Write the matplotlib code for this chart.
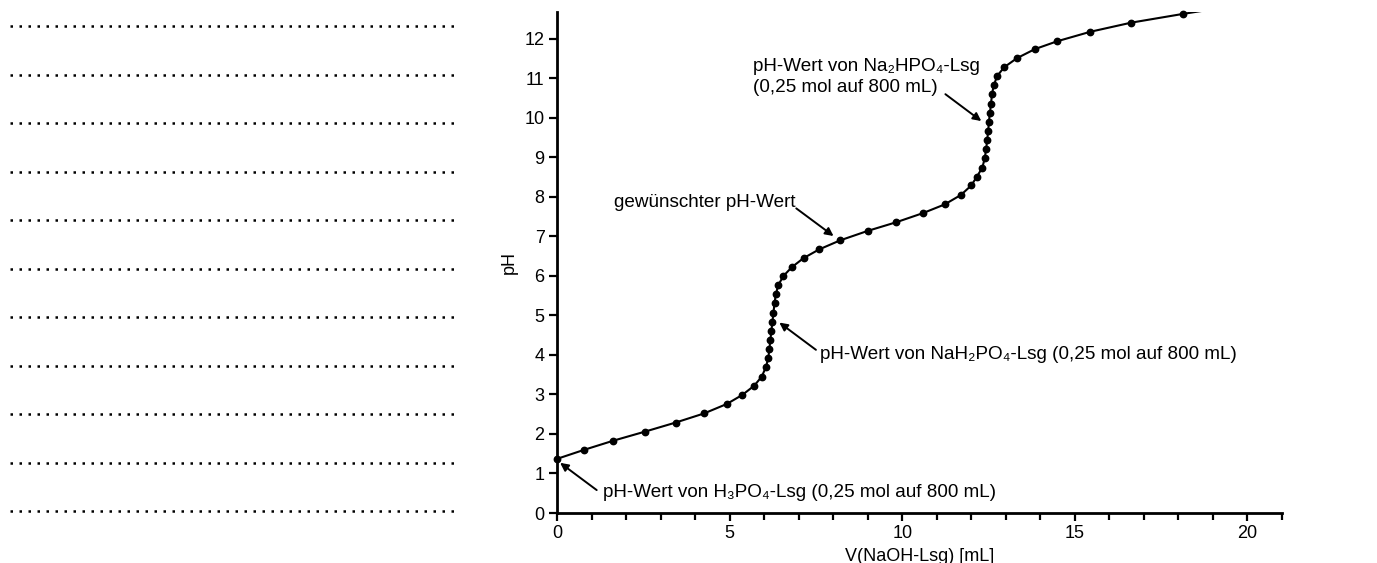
import numpy as np
import matplotlib
matplotlib.use("Agg")
import matplotlib.pyplot as plt

plt.rcParams['font.family'] = ['Liberation Sans', 'DejaVu Sans']

v_naoh = [0.0, 0.79, 1.63, 2.55, 3.44, 4.26, 4.92, 5.37, 5.71, 5.93,
          6.05, 6.12, 6.15, 6.18, 6.21, 6.24, 6.27, 6.30, 6.34, 6.41,
          6.56, 6.80, 7.14, 7.59, 8.20, 9.00, 9.83, 10.60, 11.23, 11.70,
          12.00, 12.16, 12.32, 12.39, 12.43, 12.46, 12.49, 12.51, 12.54, 12.57,
          12.60, 12.65, 12.75, 12.95, 13.32, 13.84, 14.49, 15.45, 16.63, 18.12]
ph = [1.37, 1.60, 1.83, 2.06, 2.29, 2.52, 2.76, 2.99, 3.22, 3.45,
      3.69, 3.92, 4.14, 4.38, 4.61, 4.84, 5.07, 5.31, 5.54, 5.77,
      6.00, 6.22, 6.45, 6.67, 6.90, 7.14, 7.36, 7.59, 7.81, 8.05,
      8.29, 8.51, 8.74, 8.98, 9.21, 9.44, 9.67, 9.90, 10.13, 10.35,
      10.60, 10.82, 11.06, 11.28, 11.51, 11.74, 11.94, 12.18, 12.41, 12.63]
# Kurve läuft über den letzten Punkt hinaus bis zum oberen Rand
v_ende = [19.5]
ph_ende = [12.82]

x_ticks = [0, 5, 10, 15, 20]
y_ticks = list(range(0, 13))
n_schreibzeilen = 11

fig = plt.figure(figsize=(13.77, 5.63), dpi=100)

# Schreiblinien links
ax_l = fig.add_axes([10/1377, 1 - 511/563, 450/1377, 485/563])
ax_l.hlines(range(n_schreibzeilen), 0, 1, colors='black', lw=1.8,
            linestyles=(0, (1, 2.6)), clip_on=False)
ax_l.set_xlim(0, 1)
ax_l.set_ylim(n_schreibzeilen - 1, 0)
ax_l.axis('off')

# Diagramm
ax = fig.add_axes([557/1377, 1 - 513/563, 725/1377, 501/563])
ax.plot(v_naoh + v_ende, ph + ph_ende, color='black', lw=1.5)
ax.plot(v_naoh, ph, 'o', color='black', ms=4.6, clip_on=False)

ax.set_xlim(0, 21.0)
ax.set_ylim(0, 12.68)
ax.set_xticks(x_ticks)
ax.set_xticks(range(0, 22), minor=True)
ax.set_yticks(y_ticks)
for s in ['top', 'right']:
    ax.spines[s].set_visible(False)
for s in ['left', 'bottom']:
    ax.spines[s].set_linewidth(2)
ax.tick_params(which='major', length=6, width=1.6, labelsize=13, pad=3)
ax.tick_params(which='minor', length=5, width=1.6)
ax.set_xlabel('V(NaOH-Lsg) [mL]', fontsize=13, labelpad=4)
ax.set_ylabel('pH', fontsize=13, labelpad=5)

pfeil = dict(arrowstyle='-|>', color='black', lw=1.4, mutation_scale=12,
             shrinkA=0, shrinkB=0)
fs = 13.6
ax.annotate('', xy=(0.09, 1.27), xytext=(1.15, 0.58), arrowprops=pfeil)
ax.text(1.33, 0.51, 'pH-Wert von H₃PO₄-Lsg (0,25 mol auf 800 mL)',
        fontsize=fs, va='center', ha='left')

ax.annotate('', xy=(6.44, 4.82), xytext=(7.50, 4.13), arrowprops=pfeil)
ax.text(7.62, 4.0, 'pH-Wert von NaH₂PO₄-Lsg (0,25 mol auf 800 mL)',
        fontsize=fs, va='center', ha='left')

ax.annotate('', xy=(8.01, 7.01), xytext=(6.93, 7.71), arrowprops=pfeil)
ax.text(6.90, 7.87, 'gewünschter pH-Wert', fontsize=fs, va='center', ha='right')

ax.annotate('', xy=(12.29, 9.92), xytext=(11.25, 10.6), arrowprops=pfeil)
ax.text(5.68, 11.04, 'pH-Wert von Na₂HPO₄-Lsg\n(0,25 mol auf 800 mL)',
        fontsize=fs, va='center', ha='left', linespacing=1.3)

fig.savefig('out.png', dpi=100)
